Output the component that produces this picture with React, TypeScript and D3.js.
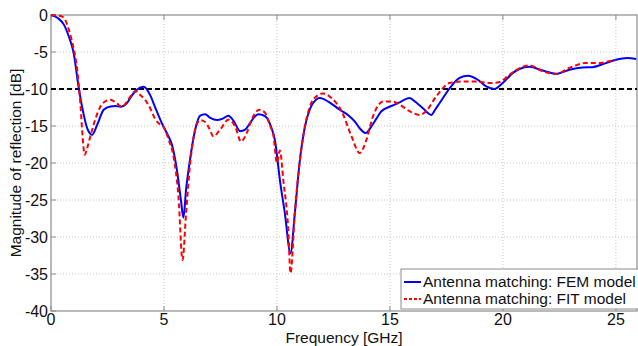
import React from "react";
import * as d3 from "d3";

const WIDTH = 638;
const HEIGHT = 346;

// FEM model (blue, solid)
const femFreq = [0, 0.3, 0.57, 0.8, 1.0, 1.23, 1.45, 1.6, 1.82, 2.05, 2.33, 2.63, 2.85, 3.07, 3.36, 3.6, 3.8, 4.1, 4.4, 4.6, 4.83, 4.98, 5.2, 5.35, 5.57, 5.75, 5.86, 5.98, 6.13, 6.38, 6.6, 6.82, 7.05, 7.34, 7.6, 7.85, 8.1, 8.37, 8.59, 8.81, 9.0, 9.17, 9.35, 9.55, 9.75, 9.91, 10.13, 10.35, 10.6, 10.79, 11.0, 11.24, 11.45, 11.6, 11.9, 12.27, 12.78, 13.22, 13.45, 13.66, 13.93, 14.18, 14.4, 14.62, 15.06, 15.43, 15.87, 16.15, 16.46, 16.83, 17.0, 17.2, 17.64, 18.08, 18.45, 18.89, 19.26, 19.62, 19.99, 20.43, 20.73, 21.17, 21.76, 22.35, 22.94, 23.52, 23.96, 24.56, 25.0, 25.5, 25.9];
const femDb = [0, -0.4, -1.3, -3.0, -5.1, -9.9, -13.5, -15.3, -16.2, -14.8, -12.8, -12.35, -12.3, -12.4, -11.9, -10.8, -10.1, -9.7, -10.9, -12.4, -14.1, -15.1, -16.4, -17.5, -20.9, -25.0, -27.4, -23.5, -20.0, -15.5, -13.6, -13.4, -13.9, -14.2, -14.0, -13.6, -14.4, -15.7, -15.5, -14.6, -13.8, -13.4, -13.5, -13.9, -15.2, -16.9, -22.3, -26.8, -32.2, -26.8, -20.0, -15.05, -12.8, -11.9, -11.2, -11.7, -12.8, -13.7, -14.4, -15.3, -15.95, -15.05, -14.0, -13.0, -12.3, -11.8, -11.2, -11.8, -12.6, -13.5, -12.8, -11.9, -9.9, -8.5, -8.2, -8.75, -9.65, -10.0, -9.2, -7.85, -7.3, -7.0, -7.5, -7.95, -7.4, -7.1, -7.05, -6.5, -6.05, -5.8, -5.95];

// FIT model (red, dashed)
const fitFreq = [0, 0.49, 0.65, 0.79, 1.0, 1.16, 1.3, 1.4, 1.49, 1.6, 1.74, 1.95, 2.19, 2.45, 2.63, 2.9, 3.14, 3.45, 3.73, 3.95, 4.15, 4.39, 4.6, 4.83, 4.98, 5.2, 5.42, 5.64, 5.82, 5.98, 6.16, 6.38, 6.6, 6.82, 7.0, 7.19, 7.48, 7.85, 8.15, 8.41, 8.66, 8.88, 9.22, 9.47, 9.7, 9.84, 10.0, 10.13, 10.28, 10.5, 10.6, 10.79, 11.0, 11.24, 11.6, 12.04, 12.41, 12.86, 13.3, 13.66, 13.96, 14.25, 14.7, 15.13, 15.43, 15.87, 16.31, 16.6, 17.05, 17.64, 18.23, 18.82, 19.4, 19.85, 20.29, 20.73, 21.17, 21.76, 22.35, 22.94, 23.67, 24.26, 24.7, 25.0];
const fitDb = [0, -0.2, -0.8, -2.0, -4.5, -7.4, -12.0, -16.5, -18.9, -18.0, -16.4, -14.2, -12.35, -11.6, -11.45, -11.9, -12.4, -11.3, -10.3, -10.8, -11.4, -12.6, -14.0, -14.8, -15.1, -16.8, -19.1, -24.5, -33.1, -26.7, -20.0, -15.5, -14.2, -14.45, -15.3, -16.4, -15.5, -14.15, -15.05, -17.1, -15.95, -14.15, -12.8, -13.2, -15.0, -16.2, -20.0, -18.3, -22.3, -29.0, -34.9, -26.8, -20.0, -15.05, -11.45, -10.6, -11.2, -13.0, -16.4, -18.65, -16.85, -13.7, -11.7, -11.7, -12.1, -13.0, -13.5, -13.0, -11.0, -9.2, -8.97, -8.97, -9.2, -9.05, -8.07, -7.2, -6.8, -7.6, -7.97, -7.15, -6.5, -6.5, -6.25, -6.1];

const xTicks = [0, 5, 10, 15, 20, 25];
const yTicks = [0, -5, -10, -15, -20, -25, -30, -35, -40];
const threshold = -10;
const legendLabels = ["Antenna matching: FEM model", "Antenna matching: FIT model"];

const margin = { left: 51, top: 15, right: 1, bottom: 35 };
const FONT = "Liberation Sans, Arial, sans-serif";

const App = () => {
    const xScale = d3.scaleLinear().domain([0, 26]).range([margin.left, WIDTH - margin.right + 1.5]);
    const yScale = d3.scaleLinear().domain([-40, 0]).range([HEIGHT - margin.bottom, margin.top]);

    const line = d3
        .line<[number, number]>()
        .x((d) => xScale(d[0]))
        .y((d) => yScale(d[1]))
        .curve(d3.curveMonotoneX);

    const femPath = line(femFreq.map((f, i) => [f, femDb[i]]));
    const fitPath = line(fitFreq.map((f, i) => [f, fitDb[i]]));

    const x0 = xScale(0);
    const x1 = WIDTH - 1;
    const y0 = yScale(0);
    const y1 = yScale(-40);

    return (
        <svg
            width={WIDTH}
            height={HEIGHT}
            style={{ position: "absolute", left: 0, top: 0, background: "#fff" }}
            fontFamily={FONT}
        >
            {/* grid */}
            {xTicks.slice(1).map((t) => (
                <line key={"gx" + t} x1={xScale(t)} x2={xScale(t)} y1={y0} y2={y1} stroke="#c8c8c8" strokeDasharray="1,2" />
            ))}
            {yTicks.slice(1, -1).map((t) => (
                <line key={"gy" + t} x1={x0} x2={x1} y1={yScale(t)} y2={yScale(t)} stroke="#c8c8c8" strokeDasharray="1,2" />
            ))}

            {/* box */}
            <rect x={x0} y={y0} width={x1 - x0} height={y1 - y0} fill="none" stroke="#8c8c8c" strokeWidth={1.2} />

            {/* ticks */}
            {xTicks.map((t) => (
                <g key={"tx" + t}>
                    <line x1={xScale(t)} x2={xScale(t)} y1={y1} y2={y1 - 5} stroke="#8c8c8c" />
                    <line x1={xScale(t)} x2={xScale(t)} y1={y0} y2={y0 + 5} stroke="#8c8c8c" />
                    <text x={xScale(t)} y={y1 + 14} textAnchor="middle" fontSize={16} fill="#111">
                        {t}
                    </text>
                </g>
            ))}
            {yTicks.map((t) => (
                <g key={"ty" + t}>
                    <line x1={x0} x2={x0 + 5} y1={yScale(t)} y2={yScale(t)} stroke="#8c8c8c" />
                    <text x={x0 - 3} y={yScale(t) + 6} textAnchor="end" fontSize={16} fill="#111">
                        {t}
                    </text>
                </g>
            ))}

            {/* -10 dB threshold */}
            <line
                x1={x0}
                x2={x1}
                y1={yScale(threshold)}
                y2={yScale(threshold)}
                stroke="#000"
                strokeWidth={2}
                strokeDasharray="5,3"
            />

            <path d={femPath} fill="none" stroke="#0000ff" strokeWidth={2} />
            <path d={fitPath} fill="none" stroke="#ff0000" strokeWidth={2} strokeDasharray="5,3" />

            {/* axis labels */}
            <text x={(x0 + x1) / 2} y={343} textAnchor="middle" fontSize={15.5} fill="#111">
                Frequency [GHz]
            </text>
            <text
                transform={"translate(21," + (y0 + y1) / 2 + ") rotate(-90)"}
                textAnchor="middle"
                fontSize={15.5}
                fill="#111"
            >
                Magnitude of reflection [dB]
            </text>

            {/* legend */}
            <g transform="translate(401,269)">
                <rect x={0} y={0} width={240} height={40} fill="#fff" stroke="#8c8c8c" />
                <line x1={3} x2={20} y1={13} y2={13} stroke="#0000ff" strokeWidth={2} />
                <line x1={3} x2={20} y1={30} y2={30} stroke="#ff0000" strokeWidth={2} strokeDasharray="3,2" />
                <text x={22} y={18} fontSize={15.5} fill="#111">
                    {legendLabels[0]}
                </text>
                <text x={22} y={35} fontSize={15.5} fill="#111">
                    {legendLabels[1]}
                </text>
            </g>
        </svg>
    );
};

export default App;
